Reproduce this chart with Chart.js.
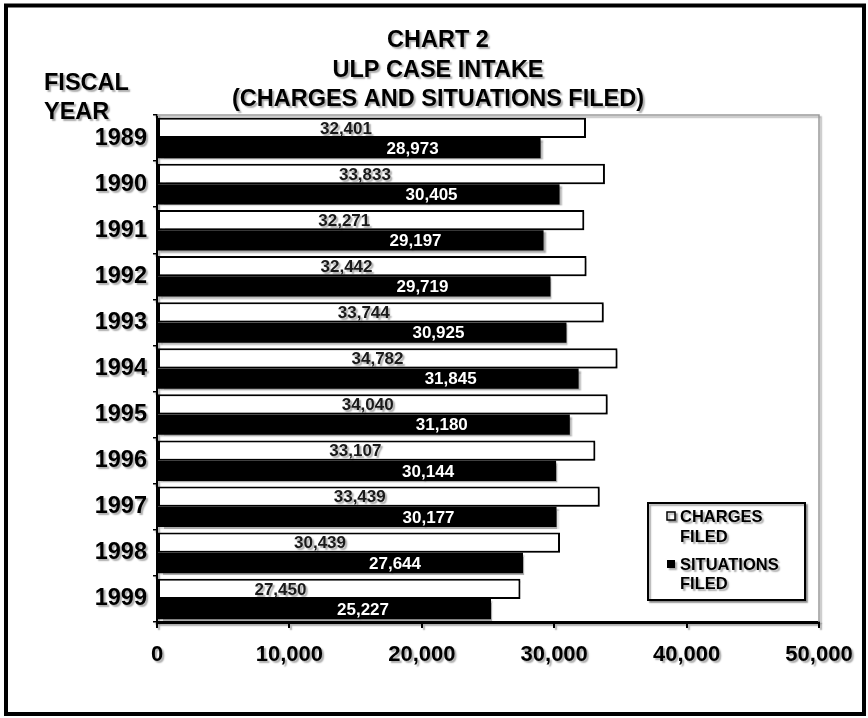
<!DOCTYPE html>
<html>
<head>
<meta charset="utf-8">
<script src="https://cdn.jsdelivr.net/npm/chart.js@4/dist/chart.umd.min.js"></script>
<style>
  html, body { margin: 0; padding: 0; background: #fff; }
  #wrap { width: 868px; height: 718px; position: relative; }
</style>
</head>
<body>
<div id="wrap"><canvas id="c"></canvas></div>
<script>
// ULP case intake by fiscal year
const fiscalYears = ['1989', '1990', '1991', '1992', '1993', '1994', '1995', '1996', '1997', '1998', '1999'];
const chargesFiled = [32401, 33833, 32271, 32442, 33744, 34782, 34040, 33107, 33439, 30439, 27450];
const situationsFiled = [28973, 30405, 29197, 29719, 30925, 31845, 31180, 30144, 30177, 27644, 25227];
const seriesNames = [['CHARGES', 'FILED'], ['SITUATIONS', 'FILED']];
const xTickValues = [0, 10000, 20000, 30000, 40000, 50000];
const titleLines = ['CHART 2', 'ULP CASE INTAKE', '(CHARGES AND SITUATIONS FILED)'];
const axisCaption = ['FISCAL', 'YEAR'];

const FONT = '"Liberation Sans", Arial, sans-serif';
const fmt = v => v.toLocaleString('en-US');

// Page frame, soft print shadow, titles, value labels and boxed legend
const decorations = {
  id: 'decorations',
  beforeDraw(chart) {
    const ctx = chart.ctx;
    ctx.save();
    ctx.fillStyle = '#fff';
    ctx.fillRect(0, 0, chart.width, chart.height);
    ctx.strokeStyle = '#000';
    ctx.lineWidth = 4;
    ctx.strokeRect(6, 5.5, chart.width - 10, chart.height - 9.5);
    ctx.restore();
    // everything after this carries a light grey drop shadow
    ctx.save();
    ctx.shadowColor = 'rgba(0,0,0,0.33)';
    ctx.shadowOffsetX = 2;
    ctx.shadowOffsetY = 2;
    ctx.shadowBlur = 1.5;
  },
  afterDraw(chart) {
    const ctx = chart.ctx;
    const area = chart.chartArea;

    // light frame on the top and right of the plot
    ctx.strokeStyle = '#9a9a9a';
    ctx.lineWidth = 1.5;
    ctx.beginPath();
    ctx.moveTo(area.left, area.top);
    ctx.lineTo(area.right, area.top);
    ctx.lineTo(area.right, area.bottom);
    ctx.stroke();

    // titles
    ctx.fillStyle = '#000';
    ctx.textAlign = 'center';
    ctx.textBaseline = 'middle';
    ctx.font = 'bold 23.5px ' + FONT;
    const titleY = [41, 71, 100];
    titleLines.forEach((t, i) => ctx.fillText(t, 438, titleY[i]));

    ctx.textAlign = 'left';
    ctx.font = 'bold 23.5px ' + FONT;
    ctx.fillText(axisCaption[0], 44, 84);
    ctx.fillText(axisCaption[1], 44, 113);

    // value labels, set back from the end of each bar
    ctx.font = 'bold 17px ' + FONT;
    ctx.textAlign = 'center';
    const offsets = [240, 128];
    const colors = ['#1a1a1a', '#fff'];
    chart.data.datasets.forEach((ds, di) => {
      const meta = chart.getDatasetMeta(di);
      meta.data.forEach((bar, i) => {
        ctx.fillStyle = colors[di];
        ctx.fillText(fmt(ds.data[i]), bar.x - offsets[di], bar.y + 1);
      });
    });

    // legend box
    const lx = 648, ly = 503, lw = 157, lh = 97;
    ctx.fillStyle = '#fff';
    ctx.fillRect(lx, ly, lw, lh);
    ctx.strokeStyle = '#000';
    ctx.lineWidth = 2;
    ctx.strokeRect(lx, ly, lw, lh);
    ctx.font = 'bold 16.5px ' + FONT;
    ctx.textAlign = 'left';
    const rows = [[516, 536], [564, 583]];
    chart.data.datasets.forEach((ds, di) => {
      const [y1, y2] = rows[di];
      if (di === 0) {
        ctx.fillStyle = '#fff';
        ctx.fillRect(667, y1 - 4, 8, 8);
        ctx.lineWidth = 1.5;
        ctx.strokeRect(667, y1 - 4, 8, 8);
      } else {
        ctx.fillStyle = '#000';
        ctx.fillRect(667, y1 - 4, 8, 8);
      }
      ctx.fillStyle = '#000';
      ctx.fillText(ds.label[0], 680, y1 + 1);
      ctx.fillText(ds.label[1], 680, y2 + 1);
    });

    ctx.restore();
  }
};

new Chart(document.getElementById('c'), {
  type: 'bar',
  data: {
    labels: fiscalYears,
    datasets: [
      {
        label: seriesNames[0],
        data: chargesFiled,
        backgroundColor: '#fff',
        borderColor: '#000',
        borderWidth: 2,
        borderSkipped: false
      },
      {
        label: seriesNames[1],
        data: situationsFiled,
        backgroundColor: '#000',
        borderColor: '#000',
        borderWidth: 0
      }
    ]
  },
  options: {
    indexAxis: 'y',
    responsive: true,
    maintainAspectRatio: false,
    animation: false,
    layout: { padding: { top: 115, left: 0, right: 49, bottom: 0 } },
    datasets: { bar: { categoryPercentage: 0.88, barPercentage: 1.0 } },
    plugins: {
      legend: { display: false },
      title: { display: false },
      tooltip: { enabled: false }
    },
    scales: {
      x: {
        min: 0,
        max: 50000,
        afterBuildTicks(scale) { scale.ticks = xTickValues.map(v => ({ value: v })); },
        afterFit(scale) { scale.height = 96; },
        grid: { drawOnChartArea: false, tickLength: 6, color: '#000', lineWidth: 2 },
        border: { color: '#000', width: 3 },
        ticks: {
          color: '#000',
          padding: 14,
          maxRotation: 0,
          font: { family: FONT, size: 22, weight: 'bold' },
          callback: v => fmt(v)
        }
      },
      y: {
        afterFit(scale) { scale.width = 157; },
        grid: { drawOnChartArea: false, offset: true, tickLength: 4, color: '#000', lineWidth: 1.5 },
        border: { color: '#000', width: 2 },
        ticks: {
          color: '#000',
          padding: 6,
          font: { family: FONT, size: 23.5, weight: 'bold' }
        }
      }
    }
  },
  plugins: [decorations]
});
</script>
</body>
</html>
